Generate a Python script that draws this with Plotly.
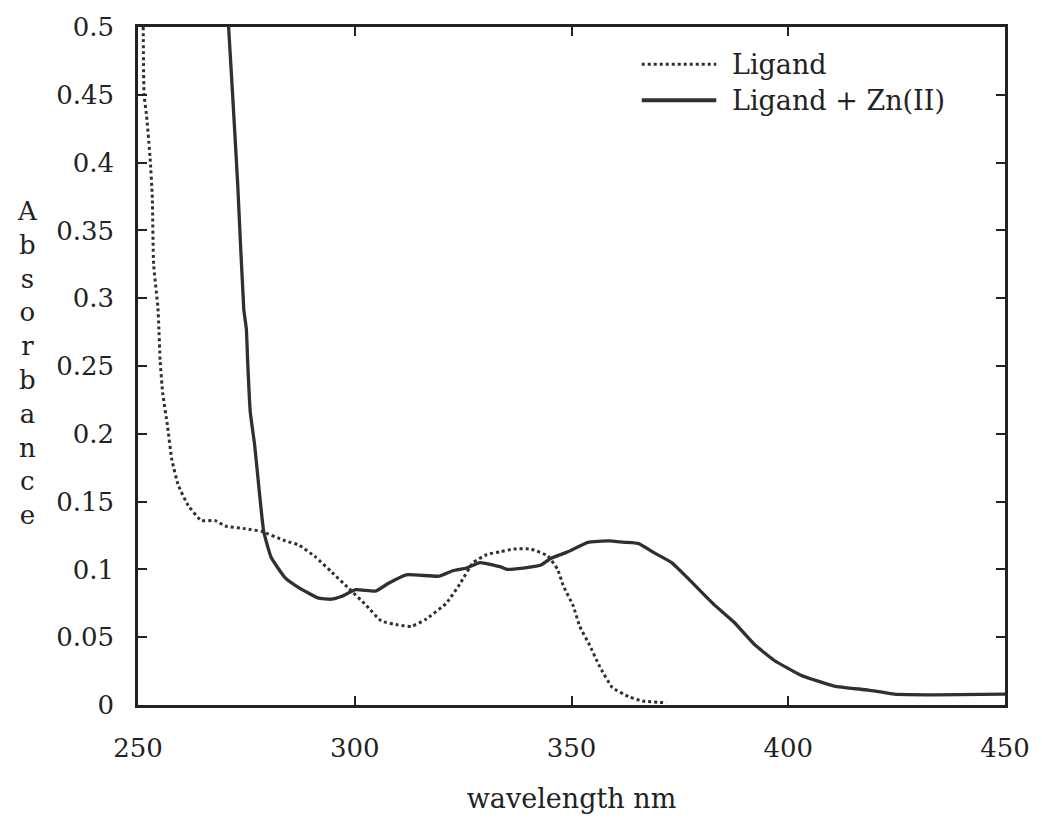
import plotly.graph_objects as go

# Absorbance spectra (wavelength in nm)
ligand_wl = [251.2, 251.4, 252.0, 252.8, 253.3, 253.6, 254.6, 254.8, 255.1, 255.7,
             256.8, 257.8, 259.3, 261.6, 264.6, 267.8, 270.1, 274.8, 278.5, 284.0,
             287.1, 291.0, 294.7, 298.6, 302.5, 306.1, 310.0, 313.1, 316.3, 321.1,
             324.2, 327.3, 330.5, 333.6, 336.6, 340.6, 344.5, 346.8, 348.1, 350.4,
             351.9, 354.2, 356.4, 359.4, 363.3, 366.3, 371.9]
ligand_abs = [0.500, 0.450, 0.434, 0.403, 0.374, 0.325, 0.293, 0.279, 0.254, 0.230,
              0.206, 0.181, 0.162, 0.147, 0.136, 0.136, 0.132, 0.130, 0.128, 0.121,
              0.118, 0.109, 0.098, 0.086, 0.074, 0.062, 0.059, 0.058, 0.063, 0.075,
              0.089, 0.105, 0.111, 0.113, 0.115, 0.115, 0.110, 0.100, 0.088, 0.073,
              0.058, 0.044, 0.029, 0.013, 0.006, 0.003, 0.0016]

zn_wl = [270.9, 271.7, 273.0, 274.4, 275.0, 275.3, 275.9, 276.9, 277.9, 279.0,
         280.7, 283.9, 286.9, 291.5, 294.6, 296.9, 300.2, 304.8, 307.9, 311.9,
         319.5, 322.6, 325.8, 328.9, 333.5, 335.1, 338.9, 342.8, 345.2, 349.2,
         353.8, 358.5, 362.2, 365.5, 369.2, 373.1, 377.0, 382.9, 387.5, 392.1,
         396.7, 402.9, 410.6, 418.5, 424.5, 433.9, 450.0]
zn_abs = [0.500, 0.457, 0.384, 0.292, 0.277, 0.253, 0.216, 0.192, 0.160, 0.128,
          0.109, 0.094, 0.087, 0.079, 0.078, 0.080, 0.085, 0.084, 0.090, 0.096,
          0.095, 0.099, 0.101, 0.105, 0.102, 0.100, 0.101, 0.103, 0.108, 0.113,
          0.120, 0.121, 0.120, 0.119, 0.112, 0.105, 0.093, 0.074, 0.061, 0.045,
          0.033, 0.022, 0.014, 0.011, 0.008, 0.0075, 0.008]

series_names = ["Ligand", "Ligand + Zn(II)"]
y_title = "Absorbance"
x_title = "wavelength nm"

FONT = "DejaVu Serif"
INK = "#222222"
LINE = "#303030"
DOTS = dict(color=LINE, width=3, dash="3px,3px")

fig = go.Figure()
fig.add_trace(go.Scatter(
    x=ligand_wl, y=ligand_abs, mode="lines", name=series_names[0],
    line=dict(shape="spline", smoothing=0.4, **DOTS),
))
fig.add_trace(go.Scatter(
    x=zn_wl, y=zn_abs, mode="lines", name=series_names[1],
    line=dict(color=LINE, width=3.3, shape="spline", smoothing=0.4),
))

axis_common = dict(
    showgrid=False, zeroline=False,
    showline=True, linecolor=INK, linewidth=2.5, mirror="ticks",
    ticks="inside", ticklen=9, tickwidth=2, tickcolor=INK,
    tickfont=dict(family=FONT, size=26, color=INK),
)

fig.update_xaxes(range=[250, 450], tick0=250, dtick=50,
                 title=dict(text=x_title, font=dict(family=FONT, size=27, color=INK), standoff=28),
                 ticklabelstandoff=18, **axis_common)
fig.update_yaxes(range=[0, 0.5], tick0=0, dtick=0.05,
                 ticklabelstandoff=16, **axis_common)

# vertical stacked axis title
fig.add_annotation(
    text="<br>".join(list(y_title)), xref="paper", yref="paper",
    x=-0.128, y=0.505, xanchor="center", yanchor="middle", showarrow=False,
    align="center", font=dict(family=FONT, size=26, color=INK),
)

# legend drawn inside the upper right of the frame
legend_rows = [(0.945, DOTS), (0.892, dict(color=LINE, width=4))]
for (yy, style), name in zip(legend_rows, series_names):
    fig.add_shape(type="line", xref="x domain", yref="y domain",
                  x0=0.581, x1=0.667, y0=yy, y1=yy, line=style)
    fig.add_annotation(text=name, xref="x domain", yref="y domain",
                       x=0.683, y=yy, xanchor="left", yanchor="middle",
                       showarrow=False, font=dict(family=FONT, size=27, color=INK))

fig.update_layout(
    width=1042, height=822,
    margin=dict(l=138, r=34, t=20, b=116),
    paper_bgcolor="white", plot_bgcolor="white",
    showlegend=False,
    font=dict(family=FONT, color=INK),
)

fig.write_html("out.html")
